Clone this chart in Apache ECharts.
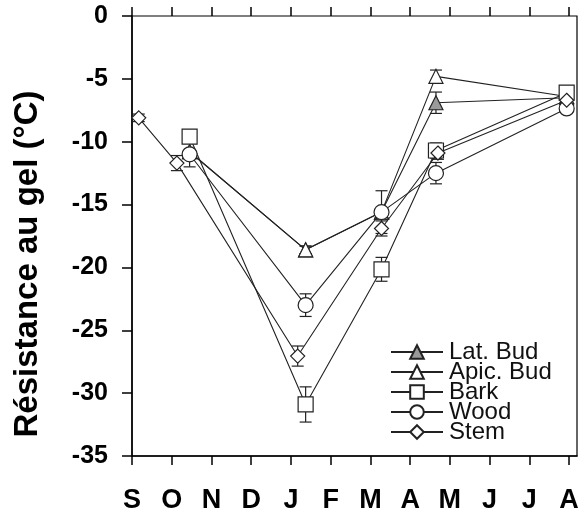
<!DOCTYPE html>
<html><head><meta charset="utf-8">
<script src="https://cdn.jsdelivr.net/npm/echarts@6/dist/echarts.min.js"></script>
<style>html,body{margin:0;padding:0;background:#fff}#c{width:579px;height:515px}</style>
</head><body><div id="c"></div>
<script>
// Month labels on the x axis (S = September ... A = August)
const months = ['S','O','N','D','J','F','M','A','M','J','J','A'];
const monthTicks = [0,1,2,3,4,5,6,7,8,9,10,11];
const yTickValues = [0,-5,-10,-15,-20,-25,-30,-35];

// Sampling dates (in months since 1 September)
const tStem = [0.17, 1.13, 4.17, 6.28, 7.70, 10.94];
const tTissue = [1.45, 4.37, 6.28, 7.65, 10.94];

// Frost resistance (°C) and standard errors
const latBud = [-10.8, -18.6, -15.6, -6.9, -6.5];
const latBudErr = [0, 0.3, 0, 0.85, 0.3];
const apicBud = [-10.8, -18.6, -15.6, -4.8, -6.4];
const apicBudErr = [0, 0.3, 0, 0.5, 0.3];
const bark = [-9.6, -30.9, -20.15, -10.7, -6.1];
const barkErr = [0.3, 1.4, 0.95, 0.6, 0.3];
const wood = [-11.0, -23.0, -15.6, -12.5, -7.35];
const woodErr = [1.0, 0.9, 1.7, 0.85, 0.3];
const stem = [-8.1, -11.7, -27.05, -16.9, -10.9, -6.7];
const stemErr = [0.3, 0.6, 0.8, 0.6, 0.5, 0.3];

const ink = '#222';
function pts(t, v){ return v.map((y,i)=>[t[i], y]); }
function errPts(t, v, e){ return v.map((y,i)=>[t[i], y, e[i]]).filter(d=>d[2]>0); }

function errRender(params, api){
  const x = api.value(0), y = api.value(1), e = api.value(2);
  const hi = api.coord([x, y + e]), lo = api.coord([x, y - e]);
  const w = 6;
  const st = {stroke: ink, lineWidth: 1.2};
  return {type:'group', children:[
    {type:'line', shape:{x1:hi[0], y1:hi[1], x2:lo[0], y2:lo[1]}, style:st},
    {type:'line', shape:{x1:hi[0]-w, y1:hi[1], x2:hi[0]+w, y2:hi[1]}, style:st},
    {type:'line', shape:{x1:lo[0]-w, y1:lo[1], x2:lo[0]+w, y2:lo[1]}, style:st}
  ]};
}

function lineSeries(name, t, v, symbol, size, fill, z){
  return {
    name, type:'line', data: pts(t, v), symbol, symbolSize: size,
    showAllSymbol: true, z: z,
    itemStyle:{color: fill, borderColor: ink, borderWidth: 1.2},
    lineStyle:{color: ink, width: 1.1},
    emphasis:{disabled:true}
  };
}
function errSeries(t, v, e){
  return {type:'custom', renderItem: errRender, data: errPts(t, v, e), z: 1, silent: true};
}

const chart = echarts.init(document.getElementById('c'));
chart.setOption({
  animation: false,
  backgroundColor: '#fff',
  textStyle: {fontFamily: 'Liberation Sans, Arial, sans-serif'},
  grid: {left: 132, right: 2, top: 16, bottom: 59, show: true, borderColor: '#000', borderWidth: 1.2, outerBoundsMode: 'none'},
  legend: {
    data: ['Lat. Bud','Apic. Bud','Bark','Wood','Stem'],
    orient: 'vertical', left: 390, top: 340, padding: 0,
    itemWidth: 52, itemHeight: 17, itemGap: -4,
    textStyle: {fontSize: 24, color: '#111', lineHeight: 20, padding: [0,0,0,1]}
  },
  xAxis: [{
    type: 'value', min: 0, max: 11.2,
    axisLine: {show: true, onZero: false, lineStyle: {color: '#000', width: 1.5}},
    axisTick: {show: true, inside: false, length: 9, lineStyle: {color: '#000', width: 1.5}, customValues: monthTicks},
    axisLabel: {customValues: monthTicks, formatter: v => months[Math.round(v)], fontSize: 27, fontWeight: 'bold', color: '#000', margin: 31},
    splitLine: {show: false}
  },{
    type: 'value', min: 0, max: 11.2, position: 'bottom',
    axisLine: {show: false},
    axisTick: {show: true, inside: true, length: 9, lineStyle: {color: '#000', width: 1.5}, customValues: monthTicks},
    axisLabel: {show: false},
    splitLine: {show: false}
  }],
  yAxis: {
    type: 'value', min: -35, max: 0, interval: 5,
    name: 'Résistance au gel (°C)', nameLocation: 'middle', nameGap: 88,
    nameTextStyle: {fontSize: 33, fontWeight: 'bold', color: '#000', padding: [0, 56, 0, 0]},
    axisLine: {show: true, onZero: false, lineStyle: {color: '#000', width: 1.5}},
    axisTick: {show: true, inside: false, length: 10, lineStyle: {color: '#000', width: 1.5}},
    axisLabel: {fontSize: 25, fontWeight: 'bold', color: '#000', margin: 24},
    splitLine: {show: false}
  },
  series: [
    errSeries(tTissue, latBud, latBudErr),
    errSeries(tTissue, apicBud, apicBudErr),
    errSeries(tTissue, bark, barkErr),
    errSeries(tTissue, wood, woodErr),
    errSeries(tStem, stem, stemErr),
    lineSeries('Lat. Bud', tTissue, latBud, 'triangle', 14, '#9a9a9a', 3),
    lineSeries('Apic. Bud', tTissue, apicBud, 'triangle', 14, '#fff', 3),
    lineSeries('Bark', tTissue, bark, 'rect', 15, '#fff', 4),
    lineSeries('Wood', tTissue, wood, 'circle', 15, '#fff', 5),
    lineSeries('Stem', tStem, stem, 'diamond', [14, 14], '#fff', 6)
  ]
});
</script></body></html>
